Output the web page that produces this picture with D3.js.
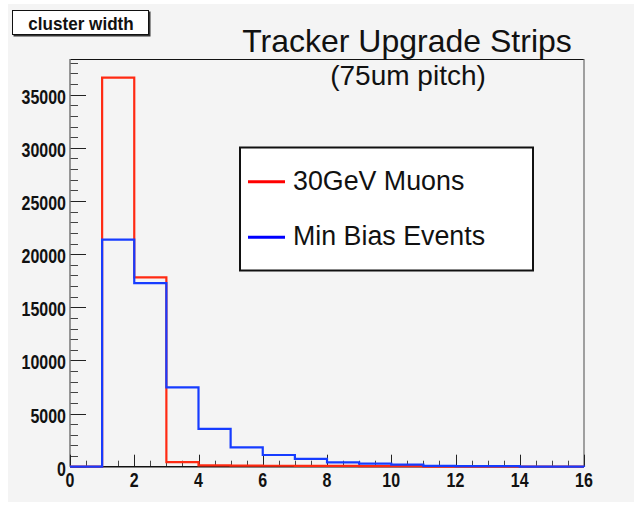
<!DOCTYPE html>
<html>
<head>
<meta charset="utf-8">
<script src="https://cdn.jsdelivr.net/npm/d3@7"></script>
<style>
  html, body { margin: 0; padding: 0; background: #ffffff; }
  svg { display: block; }
</style>
</head>
<body>
<svg id="chart" width="642" height="514"></svg>
<script>
// ---- data ----
const binStarts = [0, 1, 2, 3, 4, 5, 6, 7, 8, 9, 10, 11, 12, 13, 14, 15];
const muonCounts = [0, 36600, 17820, 430, 130, 100, 90, 80, 70, 60, 50, 0, 0, 0, 0, 0];
const minBiasCounts = [0, 21360, 17280, 7470, 3550, 1825, 1100, 740, 400, 290, 190, 70, 60, 50, 15, 10];
const seriesNames = ["30GeV Muons", "Min Bias Events"];
const xTickValues = [0, 2, 4, 6, 8, 10, 12, 14, 16];
const yTickValues = [0, 5000, 10000, 15000, 20000, 25000, 30000, 35000];
const titleText = "Tracker Upgrade Strips";
const subtitleText = "(75um pitch)";
const statBoxText = "cluster width";

// ---- layout ----
const svg = d3.select("#chart");
const pLeft = 70, pRight = 584, pTop = 59, pBottom = 466.7;
const x = d3.scaleLinear().domain([0, 16]).range([pLeft, pRight]);
const y = d3.scaleLinear().domain([0, 38360]).range([pBottom, pTop]);

const sans = "'Liberation Sans', Arial, Helvetica, sans-serif";
const narrow = 0.82;

// canvas background
svg.append("rect").attr("x", 8).attr("y", 4).attr("width", 626).attr("height", 498).attr("fill", "#f4f4f4");

// frame
svg.append("rect").attr("x", pLeft).attr("y", pTop).attr("width", pRight - pLeft).attr("height", pBottom - pTop)
  .attr("fill", "#f4f4f4").attr("stroke", "none");
svg.append("line").attr("x1", pLeft).attr("x2", pRight).attr("y1", pTop + 0.5).attr("y2", pTop + 0.5)
  .attr("stroke", "#111").attr("stroke-width", 1);
svg.append("line").attr("x1", pRight).attr("x2", pRight).attr("y1", pTop).attr("y2", pBottom)
  .attr("stroke", "#666").attr("stroke-width", 1.2);

// y axis (ticks drawn inward)
const yMinor = d3.range(0, 38001, 1000);
const yAxisG = svg.append("g");
yAxisG.selectAll("line").data(yMinor).join("line")
  .attr("x1", pLeft).attr("x2", d => pLeft + (d % 5000 === 0 ? 16 : 8))
  .attr("y1", d => Math.round(y(d)) + 0.5).attr("y2", d => Math.round(y(d)) + 0.5)
  .attr("stroke", d => d % 5000 === 0 ? "#222" : "#444").attr("stroke-width", 1);
yAxisG.append("line").attr("x1", pLeft).attr("x2", pLeft).attr("y1", pTop).attr("y2", pBottom)
  .attr("stroke", "#777").attr("stroke-width", 1.5);
yAxisG.selectAll("text").data(yTickValues).join("text")
  .attr("transform", d => `translate(66,${y(d) + 9}) scale(${narrow},1)`)
  .attr("text-anchor", "end")
  .style("font-family", sans).style("font-weight", "bold").style("font-size", "19.5px")
  .attr("fill", "#111")
  .text(d => d);

// x axis
const xMinor = d3.range(0, 16.01, 0.5);
const xAxisG = svg.append("g");
xAxisG.selectAll("line").data(xMinor).join("line")
  .attr("x1", d => Math.round(x(d)) + 0.5).attr("x2", d => Math.round(x(d)) + 0.5)
  .attr("y1", pBottom).attr("y2", d => pBottom - (d % 2 === 0 ? 12 : 6))
  .attr("stroke", d => d % 2 === 0 ? "#222" : "#444").attr("stroke-width", 1);
xAxisG.selectAll("text").data(xTickValues).join("text")
  .attr("transform", d => `translate(${x(d)},487) scale(${narrow},1)`)
  .attr("text-anchor", "middle")
  .style("font-family", sans).style("font-weight", "bold").style("font-size", "19.5px")
  .attr("fill", "#111")
  .text(d => d);

// histograms (step outlines)
function stepPath(counts) {
  const pts = [[x(binStarts[0]), y(0)]];
  binStarts.forEach((b, i) => {
    pts.push([x(b), y(counts[i])]);
    pts.push([x(b + 1), y(counts[i])]);
  });
  pts.push([x(binStarts[binStarts.length - 1] + 1), y(0)]);
  return d3.line()(pts);
}
svg.append("line").attr("x1", pLeft).attr("x2", pRight).attr("y1", pBottom).attr("y2", pBottom)
  .attr("stroke", "#111").attr("stroke-width", 1.5);
svg.append("path").attr("d", stepPath(muonCounts)).attr("fill", "none")
  .attr("stroke", "#ff2a12").attr("stroke-width", 2.2);
svg.append("path").attr("d", stepPath(minBiasCounts)).attr("fill", "none")
  .attr("stroke", "#163cff").attr("stroke-width", 2.2);

// stat/title box
svg.append("rect").attr("x", 13.5).attr("y", 11.5).attr("width", 137).attr("height", 25).attr("fill", "#333");
svg.append("rect").attr("x", 12.5).attr("y", 10.5).attr("width", 136).attr("height", 24)
  .attr("fill", "#ffffff").attr("stroke", "#111").attr("stroke-width", 1);
svg.append("text").attr("transform", "translate(81,29.5) scale(0.95,1)").attr("text-anchor", "middle")
  .style("font-family", sans).style("font-weight", "bold").style("font-size", "18px")
  .attr("fill", "#111").text(statBoxText);

// titles
svg.append("text").attr("x", 407).attr("y", 52).attr("text-anchor", "middle")
  .style("font-family", sans).style("font-size", "32px").attr("fill", "#111").text(titleText);
svg.append("text").attr("x", 408).attr("y", 84.5).attr("text-anchor", "middle")
  .style("font-family", sans).style("font-size", "28px").attr("fill", "#111").text(subtitleText);

// legend
const legColors = ["#ff0000", "#0000ff"];
const lg = svg.append("g");
lg.append("rect").attr("x", 240).attr("y", 147.5).attr("width", 293).attr("height", 123)
  .attr("fill", "#ffffff").attr("stroke", "#111").attr("stroke-width", 2);
const legY = [181.7, 237.3];
seriesNames.forEach((name, i) => {
  lg.append("line").attr("x1", 248).attr("x2", 285).attr("y1", legY[i]).attr("y2", legY[i])
    .attr("stroke", legColors[i]).attr("stroke-width", 3);
  lg.append("text").attr("x", 293).attr("y", legY[i] + 8)
    .style("font-family", sans).style("font-size", "26.8px").attr("fill", "#111").text(name);
});
</script>
</body>
</html>
